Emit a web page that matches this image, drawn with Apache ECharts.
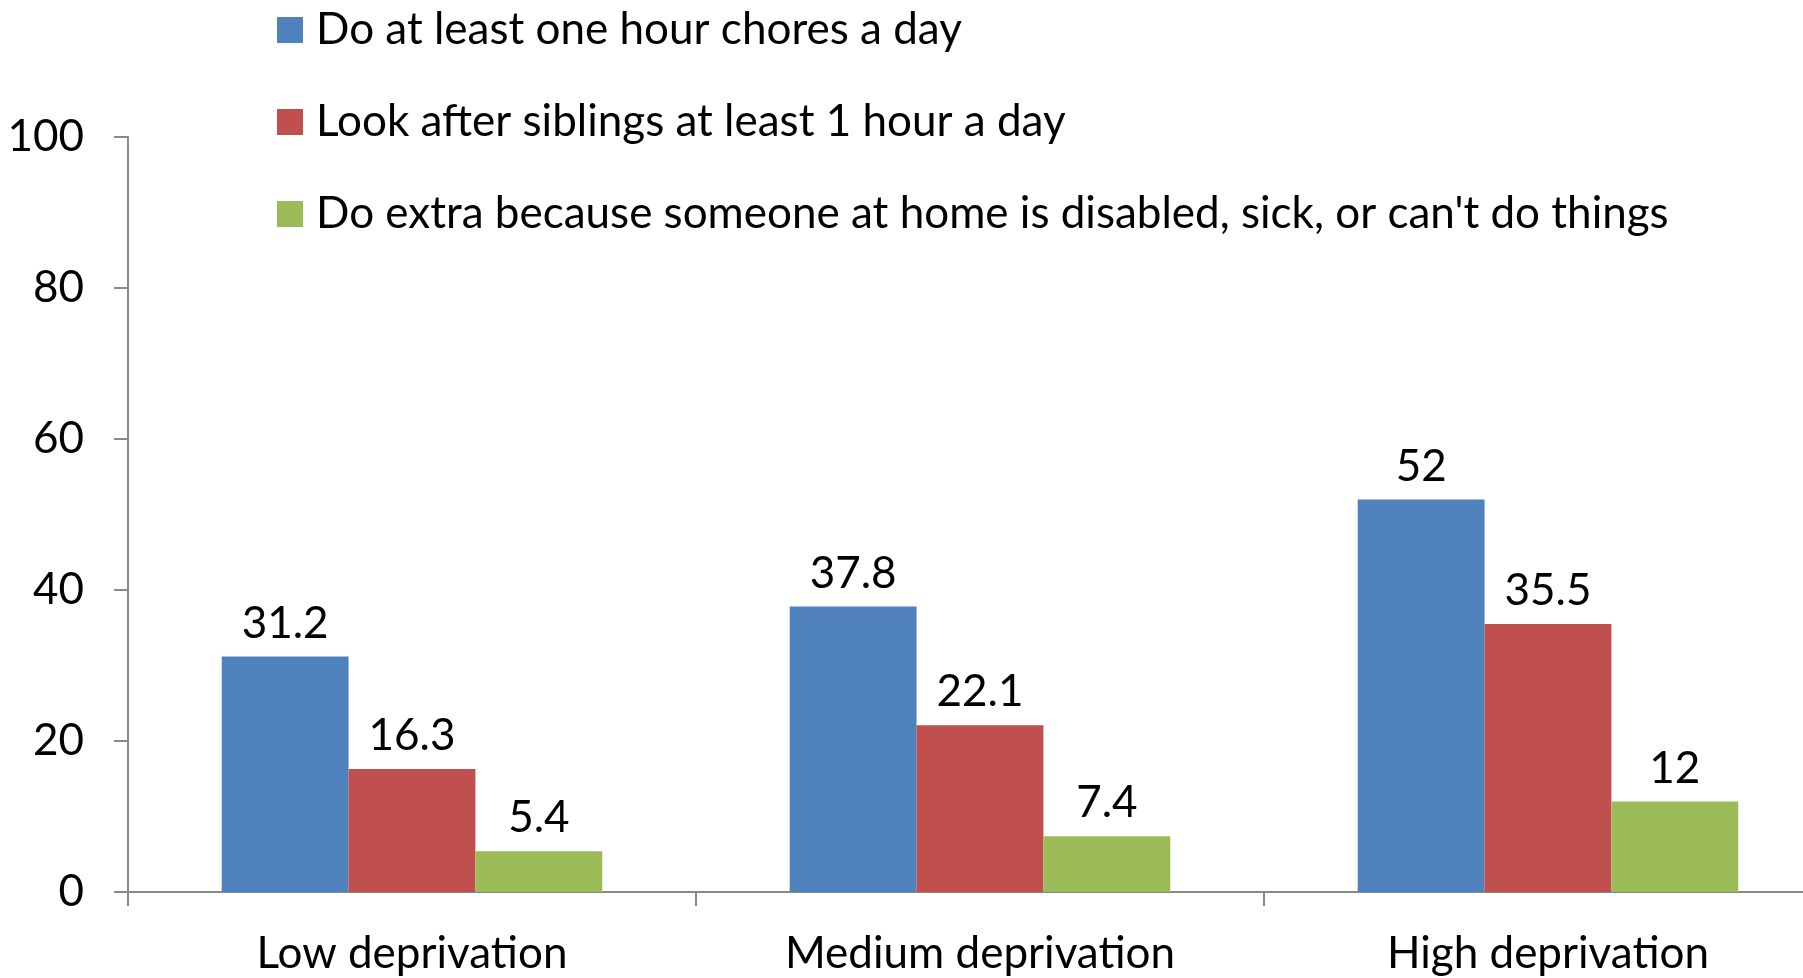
<!DOCTYPE html>
<html>
<head>
    <meta charset="UTF-8">
    <title>Chores by deprivation</title>
    <script src="https://cdn.jsdelivr.net/npm/echarts/dist/echarts.min.js"></script>
    <style>
    html, body { margin: 0; padding: 0; background: #fff; overflow: hidden; }
    #chart { width: 1840px; height: 978px; }
  </style>
</head>
<body>
<div id="chart"></div>
<script>
    // data
    var categories = ['Low deprivation', 'Medium deprivation', 'High deprivation'];
    var seriesNames = [
      'Do at least one hour chores a day',
      'Look after siblings at least 1 hour a day',
      "Do extra because someone at home is disabled, sick, or can't do things"
    ];
    var chores   = [31.2, 37.8, 52];
    var siblings = [16.3, 22.1, 35.5];
    var extra    = [5.4, 7.4, 12];
    var yTicks   = [0, 20, 40, 60, 80, 100];

    var colors = ['#4F81BD', '#C0504D', '#9BBB59'];
    var font = 'Lato, "Open Sans", sans-serif';

    var myChart = echarts.init(document.getElementById('chart'));

    function bar(name, data, color) {
      return {
        name: name,
        type: 'bar',
        data: data,
        barGap: '0%',
        barCategoryGap: '33%',
        itemStyle: { color: color },
        label: {
          show: true,
          position: 'top',
          distance: 11,
          color: '#000',
          fontFamily: font,
          fontSize: 44
        }
      };
    }

    var option = {
      animation: false,
      color: colors,
      legend: {
        orient: 'vertical',
        left: 272,
        top: 3,
        itemWidth: 26,
        itemHeight: 26,
        itemGap: 48,
        icon: 'rect',
        textStyle: {
          fontFamily: font,
          fontSize: 44,
          lineHeight: 44,
          color: '#000',
          padding: [0, 0, 0, 8]
        },
        data: seriesNames
      },
      grid: { left: 128, top: 137, width: 1704, height: 755 },
      xAxis: {
        type: 'category',
        data: categories,
        axisLine: { lineStyle: { color: '#898989', width: 2 } },
        axisTick: { show: true, length: 14, lineStyle: { color: '#898989', width: 2 } },
        axisLabel: { color: '#000', fontFamily: font, fontSize: 44, margin: 40 }
      },
      yAxis: {
        type: 'value',
        min: yTicks[0],
        max: yTicks[yTicks.length - 1],
        interval: 20,
        splitLine: { show: false },
        axisLine: { show: true, lineStyle: { color: '#898989', width: 2 } },
        axisTick: { show: true, length: 14, lineStyle: { color: '#898989', width: 2 } },
        axisLabel: { color: '#000', fontFamily: font, fontSize: 44, margin: 44 }
      },
      series: [
        bar(seriesNames[0], chores, colors[0]),
        bar(seriesNames[1], siblings, colors[1]),
        bar(seriesNames[2], extra, colors[2])
      ]
    };
    myChart.setOption(option);
  </script>
</body>
</html>
